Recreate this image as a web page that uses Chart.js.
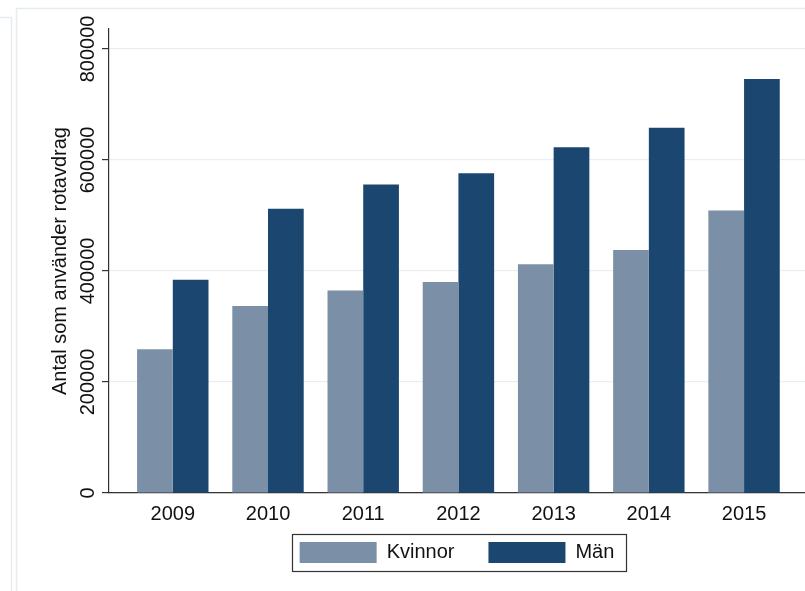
<!DOCTYPE html>
<html>
<head>
<meta charset="utf-8">
<script src="https://cdn.jsdelivr.net/npm/chart.js@4"></script>
<style>
  html, body { margin: 0; padding: 0; background: #fff; }
  #wrap { width: 805px; height: 591px; position: relative; }
</style>
</head>
<body>
<div id="wrap"><canvas id="chart"></canvas></div>
<script>
'use strict';

// ── data ────────────────────────────────────────────────────────────────────
const YEARS    = [2009, 2010, 2011, 2012, 2013, 2014, 2015];
const KVINNOR  = [259000, 337000, 365000, 380000, 412000, 438000, 509000];
const MAN      = [384000, 512000, 556000, 576000, 623000, 658000, 746000];
const Y_TICKS  = [0, 200000, 400000, 600000, 800000];
const Y_TITLE  = 'Antal som använder rotavdrag';

// ── paleta ──────────────────────────────────────────────────────────────────
const COLOR_LIGHT = '#7b90a7';
const COLOR_NAVY  = '#1b466f';
const COLOR_GRID  = '#e6eff1';
const COLOR_AXIS  = '#333333';
const COLOR_FRAME = '#e3ecef';
const FONT = 'Liberation Sans, Arial, sans-serif';

Chart.defaults.font.family = FONT;
Chart.defaults.color = '#111';

// frame lines around the graph window
const framePlugin = {
    id: 'frame',
    beforeDraw(chart) {
        const { ctx, width, height } = chart;
        ctx.save();
        ctx.strokeStyle = COLOR_FRAME;
        ctx.lineWidth = 1.5;
        ctx.beginPath();
        ctx.moveTo(0, 17.5); ctx.lineTo(11.5, 17.5); ctx.lineTo(11.5, height);
        ctx.moveTo(16.5, height); ctx.lineTo(16.5, 8.5); ctx.lineTo(width, 8.5);
        ctx.stroke();
        ctx.restore();
    },
};

// tick labels (y rotated, Stata style) + legend border
const extrasPlugin = {
    id: 'extras',
    afterDraw(chart) {
        const { ctx, chartArea } = chart;
        const x = chart.scales.x;
        const y = chart.scales.y;
        ctx.save();
        ctx.fillStyle = '#111';
        ctx.font = `20px ${FONT}`;
        ctx.textAlign = 'center';
        ctx.textBaseline = 'middle';
        Y_TICKS.forEach(v => {
            ctx.save();
            ctx.translate(chartArea.left - 21, y.getPixelForValue(v));
            ctx.rotate(-Math.PI / 2);
            ctx.fillText(String(v), 0, 0);
            ctx.restore();
        });
        YEARS.forEach(yr => {
            ctx.fillText(String(yr), x.getPixelForValue(yr), chartArea.bottom + 21);
        });

        const boxes = chart.legend.legendHitBoxes;
        if (boxes && boxes.length) {
            const l = Math.min(...boxes.map(b => b.left));
            const r = Math.max(...boxes.map(b => b.left + b.width));
            const t = Math.min(...boxes.map(b => b.top));
            const b = Math.max(...boxes.map(b => b.top + b.height));
            ctx.strokeStyle = '#333';
            ctx.lineWidth = 1.2;
            ctx.strokeRect(Math.round(l - 8) + 0.5, Math.round(t - 8) + 0.5,
                           Math.round(r - l + 19), Math.round(b - t + 16));
        }
        ctx.restore();
    },
};

new Chart(document.getElementById('chart'), {
    type: 'bar',
    data: {
        datasets: [
            {
                label: 'Kvinnor',
                data: YEARS.map((yr, i) => ({ x: yr, y: KVINNOR[i] })),
                backgroundColor: COLOR_LIGHT,
                borderWidth: 0,
            },
            {
                label: 'Män',
                data: YEARS.map((yr, i) => ({ x: yr, y: MAN[i] })),
                backgroundColor: COLOR_NAVY,
                borderWidth: 0,
            },
        ],
    },
    options: {
        responsive: true,
        maintainAspectRatio: false,
        animation: false,
        categoryPercentage: 0.75,
        barPercentage: 1.0,
        layout: { padding: { top: 29, left: 40, right: 0, bottom: 18 } },
        plugins: {
            tooltip: { enabled: false },
            legend: {
                position: 'bottom',
                fullSize: false,
                labels: {
                    boxWidth: 77,
                    boxHeight: 21,
                    padding: 34,
                    color: '#111',
                    font: { size: 20 },
                },
            },
        },
        scales: {
            x: {
                type: 'linear',
                offset: false,
                min: 2008.33,
                max: 2015.64,
                ticks: { display: false, stepSize: 1 },
                afterFit: s => { s.height = 15; },
                grid: { display: false, drawTicks: false, offset: false },
                border: { display: true, color: COLOR_AXIS, width: 1.2 },
            },
            y: {
                min: 0,
                max: 836000,
                ticks: { display: false, stepSize: 200000 },
                afterBuildTicks: s => { s.ticks = Y_TICKS.map(v => ({ value: v })); },
                afterFit: s => { s.width = 69; },
                grid: { color: COLOR_GRID, lineWidth: 1.2, drawTicks: true, tickLength: 7, tickColor: COLOR_AXIS },
                border: { display: true, color: COLOR_AXIS, width: 1.2 },
                title: {
                    display: true,
                    text: Y_TITLE,
                    color: '#111',
                    font: { size: 20 },
                    padding: { top: 8, bottom: 0 },
                },
            },
        },
    },
    plugins: [framePlugin, extrasPlugin],
});
</script>
</body>
</html>
